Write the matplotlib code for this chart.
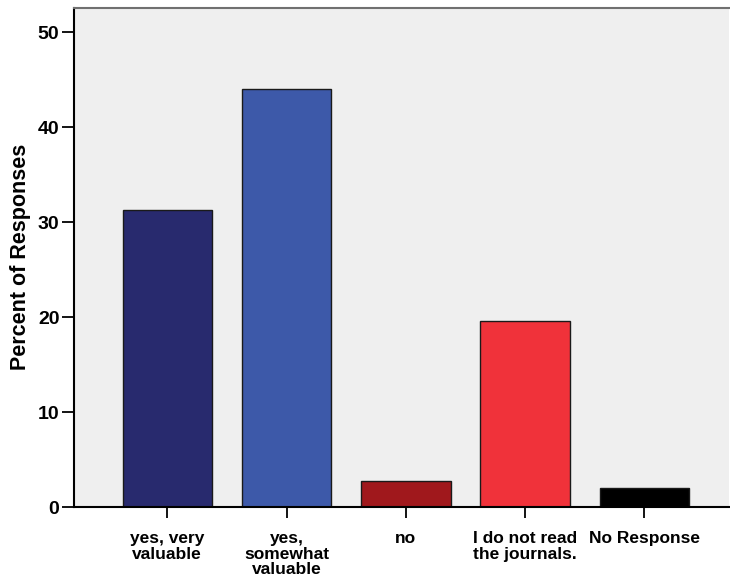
import matplotlib
matplotlib.use("Agg")
import matplotlib.pyplot as plt

categories = ["yes, very\nvaluable", "yes,\nsomewhat\nvaluable", "no",
              "I do not read\nthe journals.", "No Response"]
values = [31.3, 44.05, 2.75, 19.6, 2.05]
colors = ["#282A6E", "#3D59A9", "#A0181C", "#F0323A", "#000000"]
yticks = [0, 10, 20, 30, 40, 50]

plt.rcParams['font.family'] = ['Liberation Sans', 'DejaVu Sans']
plt.rcParams['font.weight'] = 'bold'

fig = plt.figure(figsize=(7.30, 5.85), dpi=100)
ax = fig.add_axes([74/730, 78/585, 655/730, 499.5/585])
ax.set_facecolor("#EFEFEF")
x = list(range(len(categories)))
ax.bar(x, values, width=0.75, color=colors, edgecolor="#1a1a1a", linewidth=1.0, zorder=2)
ax.set_xlim(-0.782, 4.71)
ax.set_ylim(0, 52.63)
ax.set_yticks(yticks)
ax.set_yticklabels([str(t) for t in yticks], fontsize=14, fontweight='bold')
ax.set_xticks(x)
ax.set_xticklabels(categories, fontsize=12.5, fontweight='bold', linespacing=1.02)
ax.tick_params(axis='y', length=8.5, width=1.3, pad=2)
ax.tick_params(axis='x', length=8, width=1.3, pad=9.5)
ax.set_ylabel("Percent of Responses", fontsize=15.5, fontweight='bold', labelpad=5)
for s in ["left", "bottom"]:
    ax.spines[s].set_linewidth(1.5)
    ax.spines[s].set_color("#000000")
ax.spines["top"].set_color("#707070")
ax.spines["top"].set_linewidth(1.5)
ax.spines["right"].set_visible(False)
fig.savefig("out.png", dpi=100)
